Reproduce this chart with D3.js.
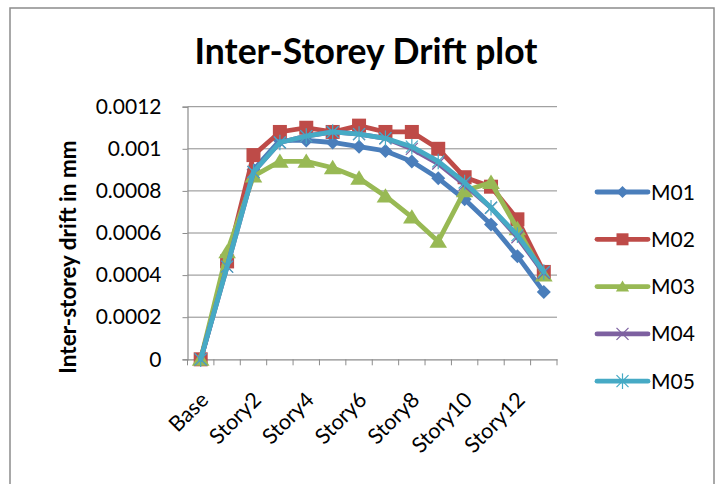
<!DOCTYPE html>
<html><head><meta charset="utf-8">
<script src="https://cdn.jsdelivr.net/npm/d3@7"></script>
<style>body{margin:0;background:#fff}svg{display:block}</style>
</head><body>
<script>
const categories = ["Base","Story1","Story2","Story3","Story4","Story5","Story6","Story7","Story8","Story9","Story10","Story11","Story12","Story13"];
const tickLabels = ["Base","Story2","Story4","Story6","Story8","Story10","Story12"];
const yTicks = [0,0.0002,0.0004,0.0006,0.0008,0.001,0.0012];
const seriesNames = ["M01","M02","M03","M04","M05"];
const M01 = [0,0.00045,0.0009,0.00104,0.00104,0.00103,0.00101,0.00099,0.00094,0.00086,0.00076,0.00064,0.00049,0.00032];
const M02 = [0,0.000465,0.00097,0.00108,0.0011,0.00108,0.00111,0.00108,0.00108,0.001,0.000865,0.00082,0.000665,0.000415];
const M03 = [0,0.00051,0.00087,0.00094,0.00094,0.00091,0.00086,0.000775,0.000675,0.00056,0.0008,0.00084,0.00062,0.0004];
const M04 = [0,0.00044,0.00089,0.00103,0.00106,0.00108,0.00107,0.00105,0.001,0.00093,0.00083,0.00072,0.00058,0.00041];
const M05 = [0,0.00044,0.00089,0.00103,0.00106,0.00108,0.00107,0.00105,0.00101,0.00094,0.00084,0.00072,0.00059,0.000415];
const seriesValues = [M01,M02,M03,M04,M05];
const colors = ["#4A7EBB","#BE4B48","#98B954","#7D60A0","#46AAC5"];

const W=726,H=484;
const svg=d3.select("body").append("svg").attr("width",W).attr("height",H);
const font="Lato, 'Open Sans', sans-serif";
svg.append("rect").attr("x",10).attr("y",8).attr("width",704).attr("height",500)
  .attr("fill","#fff").attr("stroke","#8c8c8c").attr("stroke-width",1.5);

const L=187.5,R=557,T=106.7,B=359.3;
const x=d3.scaleBand().domain(categories).range([L,R]).padding(0);
const y=d3.scaleLinear().domain([0,0.0012]).range([B,T]);
const cx=c=>x(c)+x.bandwidth()/2;

// gridlines
svg.append("g").selectAll("line").data(yTicks.slice(1)).join("line")
  .attr("x1",L).attr("x2",R).attr("y1",d=>y(d)).attr("y2",d=>y(d))
  .attr("stroke","#8c8c8c").attr("stroke-width",1);

// y axis
const ya=svg.append("g").attr("transform",`translate(${L},0)`)
  .call(d3.axisLeft(y).tickValues(yTicks).tickSize(5).tickPadding(21).tickFormat(d=>String(+d.toFixed(4))));
ya.select(".domain").attr("stroke","#8c8c8c").attr("stroke-width",1.2);
ya.selectAll(".tick line").attr("stroke","#8c8c8c");
ya.selectAll("text").attr("font-family",font).attr("font-size",21).attr("fill","#000");

// x axis
const xa=svg.append("g").attr("transform",`translate(0,${B})`)
  .call(d3.axisBottom(x).tickSize(0).tickFormat(""));
xa.select(".domain").attr("stroke","#8c8c8c").attr("stroke-width",1.2);
const bounds=categories.map(c=>x(c)).concat([R]);
svg.append("g").selectAll("line").data(bounds).join("line")
  .attr("x1",d=>d).attr("x2",d=>d).attr("y1",B).attr("y2",B+6)
  .attr("stroke","#8c8c8c");
svg.append("g").selectAll("text").data(tickLabels).join("text")
  .attr("transform",d=>`translate(${cx(d)+9},${B+42}) rotate(-45)`)
  .attr("text-anchor","end").attr("font-family",font).attr("font-size",21.5).attr("fill","#000")
  .text(d=>d);

// lines
const line=d3.line().x((d,i)=>cx(categories[i])).y(d=>y(d));
const diamond=s=>`M0,${-s}L${s},0L0,${s}L${-s},0Z`;
const tri=s=>`M0,${-s}L${s*1.1},${s*0.8}L${-s*1.1},${s*0.8}Z`;
function marker(g,k,px,py,s){
  const c=colors[k];
  if(k===0) g.append("path").attr("d",diamond(s)).attr("transform",`translate(${px},${py})`).attr("fill",c);
  else if(k===1) g.append("rect").attr("x",px-s).attr("y",py-s).attr("width",2*s).attr("height",2*s).attr("fill",c);
  else if(k===2) g.append("path").attr("d",tri(s)).attr("transform",`translate(${px},${py})`).attr("fill",c);
  else if(k===3){
    [[-1,-1,1,1],[-1,1,1,-1]].forEach(a=>g.append("line").attr("x1",px+a[0]*s).attr("y1",py+a[1]*s).attr("x2",px+a[2]*s).attr("y2",py+a[3]*s).attr("stroke",c).attr("stroke-width",1.2));
  } else {
    [[-1,-1,1,1],[-1,1,1,-1],[0,-1.3,0,1.3]].forEach(a=>g.append("line").attr("x1",px+a[0]*s).attr("y1",py+a[1]*s).attr("x2",px+a[2]*s).attr("y2",py+a[3]*s).attr("stroke",c).attr("stroke-width",1.2));
  }
}
const msz=[7,7,8,6,6];
seriesValues.forEach((vals,k)=>{
  const g=svg.append("g");
  g.append("path").datum(vals).attr("d",line).attr("fill","none").attr("stroke",colors[k])
    .attr("stroke-width",4.8).attr("stroke-linejoin","round").attr("stroke-linecap","round");
  vals.forEach((v,i)=>marker(g,k,cx(categories[i]),y(v),msz[k]));
});

// legend
const lg=svg.append("g");
seriesNames.forEach((n,k)=>{
  const ly=192+k*47.3;
  lg.append("line").attr("x1",597).attr("x2",648).attr("y1",ly).attr("y2",ly).attr("stroke",colors[k]).attr("stroke-width",4.8).attr("stroke-linecap","round");
  marker(lg,k,622.5,ly,6);
  lg.append("text").attr("x",651).attr("y",ly+7.5).attr("font-family",font).attr("font-size",21).text(n);
});

// title
svg.append("text").attr("x",366).attr("y",64).attr("text-anchor","middle")
  .attr("font-family",font).attr("font-weight","bold").attr("font-size",35.5).text("Inter-Storey Drift plot");
// y label
svg.append("text").attr("transform","translate(76,257) rotate(-90)").attr("text-anchor","middle")
  .attr("font-family",font).attr("font-weight","bold").attr("font-size",22.5).text("Inter-storey drift in mm");
</script>
</body></html>
